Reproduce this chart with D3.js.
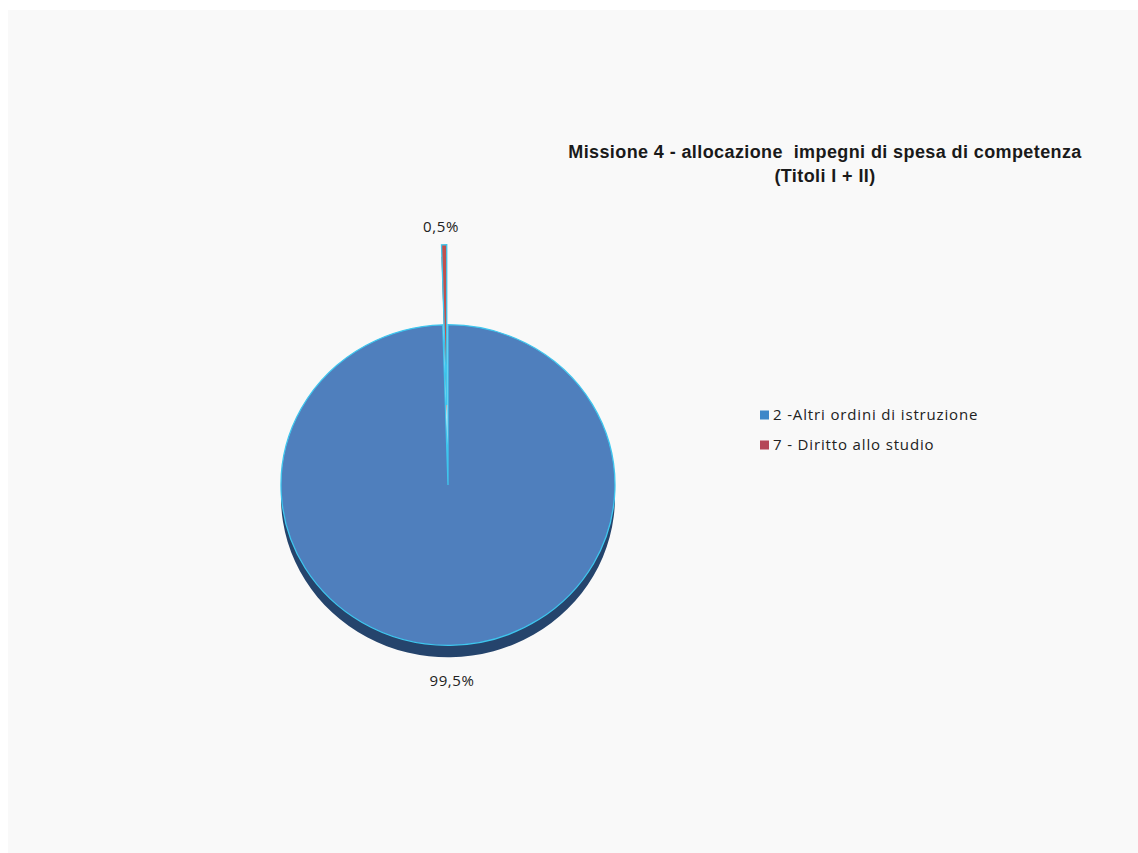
<!DOCTYPE html>
<html>
  <head>
    <meta charset="utf-8">
    <title>Missione 4</title>
    <script src="https://d3js.org/d3.v7.min.js"></script>
    <style>
      body { margin: 0; background: #fff; }
      .title { font-family: "Liberation Sans", Arial, sans-serif; font-weight: bold; font-size: 18px; letter-spacing: 0.4px; fill: #1a1a1a; white-space: pre; }
      .lbl { font-family: "Open Sans", "Noto Sans", sans-serif; font-size: 15px; letter-spacing: 0.6px; fill: #222; }
      .legend text { font-family: "Open Sans", "Noto Sans", sans-serif; font-size: 15px; letter-spacing: 0.85px; fill: #222; }
    </style>
  </head>
  <body>
    <svg width="1138" height="853"></svg>
    <script>
      const categories = ["2 -Altri ordini di istruzione", "7 - Diritto allo studio"];
      const values = [99.5, 0.5];
      const labels = ["99,5%", "0,5%"];
      const colors = ["#4f7fbd", "#c0504d"];
      const sideColors = ["#25446c", "#7a2e2c"];
      const explode = [0, 80];

      const svg = d3.select("svg");
      const width = +svg.attr("width");
      const height = +svg.attr("height");

      svg.append("rect")
          .attr("x", 8).attr("y", 10)
          .attr("width", width - 8).attr("height", height - 10)
          .attr("fill", "#f9f9f9");

      const title = svg.append("text").attr("class", "title").attr("text-anchor", "middle");
      title.append("tspan").attr("x", 825).attr("y", 158).text("Missione 4 - allocazione  impegni di spesa di competenza");
      title.append("tspan").attr("x", 825).attr("y", 182).text("(Titoli I + II)");

      const cx = 448, cy = 485, r = 167, depth = 12, squash = 0.96;
      const pie = d3.pie().sort(null).value(d => d)(values);
      const arc = d3.arc().innerRadius(0).outerRadius(r);

      const g = svg.append("g").attr("transform", `translate(${cx},${cy}) scale(1,${squash})`);

      function offset(d, i) {
        const a = (d.startAngle + d.endAngle) / 2;
        return [Math.sin(a) * explode[i], -Math.cos(a) * explode[i] / squash];
      }

      // 3D side
      g.selectAll("path.side").data(pie).join("path")
          .attr("class", "side")
          .attr("d", arc)
          .attr("transform", (d, i) => { const o = offset(d, i); return `translate(${o[0]},${o[1] + depth / squash})`; })
          .attr("fill", (d, i) => sideColors[i]);

      // faces
      g.selectAll("path.face").data(pie).join("path")
          .attr("class", "face")
          .attr("d", arc)
          .attr("transform", (d, i) => { const o = offset(d, i); return `translate(${o[0]},${o[1]})`; })
          .attr("fill", (d, i) => colors[i])
          .attr("stroke", "#3ec6ee")
          .attr("stroke-width", 1.3);

      // labels
      const lblPos = [[452, 686], [441, 232]];
      svg.selectAll("text.lbl").data(pie).join("text")
          .attr("class", "lbl")
          .attr("text-anchor", "middle")
          .attr("x", (d, i) => lblPos[i][0])
          .attr("y", (d, i) => lblPos[i][1])
          .text((d, i) => labels[i]);

      // legend
      const legend = svg.append("g").attr("class", "legend").attr("transform", "translate(760,415)");
      const item = legend.selectAll("g").data(categories).join("g")
          .attr("transform", (d, i) => `translate(0,${i * 30})`);
      item.append("rect").attr("width", 9).attr("height", 9).attr("y", -4.5)
          .attr("fill", (d, i) => i === 0 ? "#3f87c8" : "#b54758");
      item.append("text").attr("x", 13).attr("y", 5).text(d => d);
    </script>
  </body>
</html>
